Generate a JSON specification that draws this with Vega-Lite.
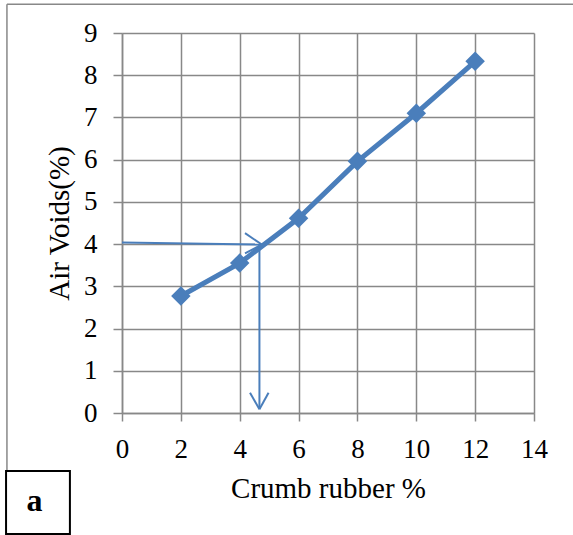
{
  "$schema": "https://vega.github.io/schema/vega-lite/v6.json",
  "width": 412,
  "height": 380,
  "autosize": {"type": "none"},
  "padding": {"left": 122, "top": 33, "right": 39, "bottom": 122},
  "background": "white",
  "config": {"view": {"stroke": null}, "font": "Liberation Serif"},
  "datasets": {
    "main": [
      {"rubber": 2, "voids": 2.77},
      {"rubber": 4, "voids": 3.55},
      {"rubber": 6, "voids": 4.61},
      {"rubber": 8, "voids": 5.96},
      {"rubber": 10, "voids": 7.1},
      {"rubber": 12, "voids": 8.33}
    ],
    "arrows": [
      {"part": "h", "rubber": 0, "voids": 4.04, "rubber2": 4.75, "voids2": 3.99},
      {"part": "hb1", "rubber": 4.18, "voids": 4.26, "rubber2": 4.75, "voids2": 3.99},
      {"part": "hb2", "rubber": 4.18, "voids": 3.78, "rubber2": 4.75, "voids2": 3.99},
      {"part": "v", "rubber": 4.67, "voids": 3.99, "rubber2": 4.67, "voids2": 0.09},
      {"part": "vb1", "rubber": 4.35, "voids": 0.48, "rubber2": 4.67, "voids2": 0.09},
      {"part": "vb2", "rubber": 4.98, "voids": 0.48, "rubber2": 4.67, "voids2": 0.09}
    ],
    "frame": [
      {"part": "top", "rubber": -3.91, "voids": 9.68, "rubber2": 15.5, "voids2": 9.68},
      {"part": "left", "rubber": -3.91, "voids": 9.68, "rubber2": -3.91, "voids2": -1.37}
    ],
    "panel": [
      {"label": "a", "rubber": -3.94, "voids": -1.374, "rubber2": -1.77, "voids2": -2.866, "lx": -2.97, "ly": -2.32}
    ]
  },
  "encoding": {
    "x": {
      "field": "rubber",
      "type": "quantitative",
      "scale": {"domain": [0, 14], "nice": false, "zero": false},
      "axis": {
        "title": "Crumb rubber %",
        "values": [0, 2, 4, 6, 8, 10, 12, 14],
        "grid": true,
        "gridColor": "#888888",
        "gridWidth": 1.5,
        "gridOpacity": 1,
        "domainColor": "#888888",
        "domainWidth": 1.5,
        "tickColor": "#888888",
        "tickWidth": 1.5,
        "tickSize": 8,
        "labelFont": "Liberation Serif",
        "labelFontSize": 27,
        "labelColor": "#000000",
        "labelPadding": 15,
        "labelFlush": false,
        "labelOverlap": false,
        "titleFont": "Liberation Serif",
        "titleFontSize": 29,
        "titleFontWeight": "normal",
        "titleColor": "#000000",
        "titlePadding": 12
      }
    },
    "y": {
      "field": "voids",
      "type": "quantitative",
      "scale": {"domain": [0, 9], "nice": false, "zero": false},
      "axis": {
        "title": "Air Voids(%)",
        "values": [0, 1, 2, 3, 4, 5, 6, 7, 8, 9],
        "grid": true,
        "gridColor": "#888888",
        "gridWidth": 1.5,
        "gridOpacity": 1,
        "domainColor": "#888888",
        "domainWidth": 1.5,
        "tickColor": "#888888",
        "tickWidth": 1.5,
        "tickSize": 9,
        "labelFont": "Liberation Serif",
        "labelFontSize": 27,
        "labelColor": "#000000",
        "labelPadding": 16,
        "labelFlush": false,
        "labelOverlap": false,
        "titleFont": "Liberation Serif",
        "titleFontSize": 29,
        "titleFontWeight": "normal",
        "titleColor": "#000000",
        "titlePadding": 9
      }
    }
  },
  "layer": [
    {
      "data": {"name": "frame"},
      "mark": {"type": "rule", "color": "#888888", "strokeWidth": 1.5, "clip": false},
      "encoding": {"x2": {"field": "rubber2"}, "y2": {"field": "voids2"}, "detail": {"field": "part"}}
    },
    {
      "data": {"name": "main"},
      "mark": {"type": "line", "color": "#4a7ebb", "strokeWidth": 5}
    },
    {
      "data": {"name": "main"},
      "mark": {"type": "point", "shape": "diamond", "size": 380, "filled": true, "color": "#4a7ebb", "opacity": 1}
    },
    {
      "data": {"name": "arrows"},
      "mark": {"type": "rule", "color": "#4a7ebb", "strokeWidth": 2},
      "encoding": {"x2": {"field": "rubber2"}, "y2": {"field": "voids2"}, "detail": {"field": "part"}}
    },
    {
      "data": {"name": "panel"},
      "mark": {"type": "rect", "fill": "white", "stroke": "#000000", "strokeWidth": 2, "clip": false},
      "encoding": {"x2": {"field": "rubber2"}, "y2": {"field": "voids2"}}
    },
    {
      "data": {"name": "panel"},
      "mark": {"type": "text", "font": "Liberation Serif", "fontSize": 32, "fontWeight": "bold", "color": "#000000", "align": "center", "baseline": "alphabetic", "clip": false},
      "encoding": {
        "x": {"field": "lx", "type": "quantitative"},
        "y": {"field": "ly", "type": "quantitative"},
        "text": {"field": "label"}
      }
    }
  ]
}
